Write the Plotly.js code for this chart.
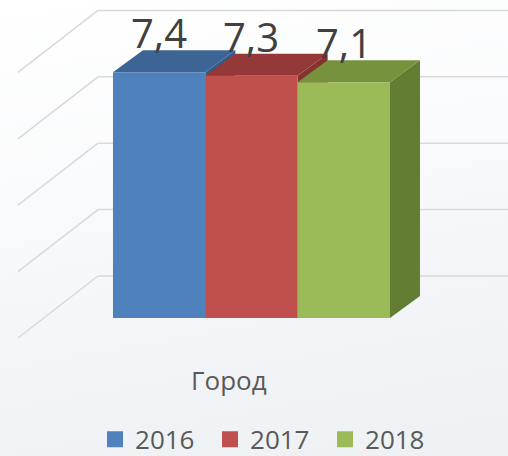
<!DOCTYPE html>
<html>
<head>
<meta charset="utf-8">
<script src="https://cdn.plot.ly/plotly-3.0.1.min.js"></script>
<style>
html,body{margin:0;padding:0;}
body{width:508px;height:456px;background:linear-gradient(170deg,#ffffff 0%,#fafbfc 35%,#f2f4f7 70%,#eef1f4 100%);}
#chart{width:508px;height:456px;}
</style>
</head>
<body>
<div id="chart"></div>
<script>
// ---- data ----
const categories = ['Город'];
const seriesNames = ['2016', '2017', '2018'];
const values = [7.4, 7.3, 7.1];
const valueLabels = ['7,4', '7,3', '7,1'];
const gridValues = [0, 2, 4, 6, 8];

// ---- styles ----
const frontColors = ['#4F81BD', '#C0504D', '#9BBB59'];
const topColors   = ['#3C6595', '#943937', '#76923C'];
const sideColors  = ['#365A86', '#843331', '#637D32'];
const W = 508, H = 456;
const xRange = [-0.5447, 0.5556];
const yRange = [-4.157, 9.578];
const groupWidth = 0.6;
const pxX = W / (xRange[1] - xRange[0]);
const pxY = H / (yRange[1] - yRange[0]);
const barDepthPx = [30, 22];       // right, up
const wallBackPx = [54, 42];       // back wall offset from bar fronts
const wallSidePx = [80, 62];       // side wall length (left, down)
const wallGapPx = 15;              // back wall corner left of first bar
const fontFam = '"Open Sans", "Noto Sans", sans-serif';

const n = values.length;
const bw = groupWidth / n;
const x0s = values.map((v, i) => -groupWidth / 2 + i * bw);
const centers = x0s.map(x => x + bw / 2);

const traces = values.map((v, i) => ({
  type: 'bar',
  x: [categories[0]],
  y: [v],
  name: seriesNames[i],
  marker: {color: frontColors[i], line: {width: 0}},
  offset: x0s[i],
  width: bw,
  showlegend: false,
  hoverinfo: 'none'
}));
// legend proxies
seriesNames.forEach((s, i) => traces.push({
  type: 'scatter', mode: 'markers', x: [null], y: [null], name: s,
  marker: {symbol: 'square', size: 18, color: frontColors[i]},
  hoverinfo: 'none'
}));

const shapes = [];
const ddx = barDepthPx[0] / pxX, ddy = barDepthPx[1] / pxY;
// walls / gridlines
const cornerX = x0s[0] - wallGapPx / pxX;
gridValues.forEach(g => {
  const yb = g + wallBackPx[1] / pxY;
  shapes.push({type: 'line', layer: 'below', xref: 'x', yref: 'y',
    x0: cornerX, x1: xRange[1] + 0.1, y0: yb, y1: yb,
    line: {color: '#d9d9d9', width: 1.5}});
  shapes.push({type: 'line', layer: 'below', xref: 'x', yref: 'y',
    x0: cornerX, y0: yb, x1: cornerX - wallSidePx[0] / pxX, y1: yb - wallSidePx[1] / pxY,
    line: {color: '#d9d9d9', width: 1.5}});
});
// bar side & top faces
values.forEach((v, i) => {
  const a = x0s[i], b = x0s[i] + bw;
  shapes.push({type: 'path', layer: 'below', xref: 'x', yref: 'y',
    path: `M${b},0 L${b + ddx},${ddy} L${b + ddx},${v + ddy} L${b},${v} Z`,
    fillcolor: sideColors[i], line: {width: 0}});
  shapes.push({type: 'path', layer: 'below', xref: 'x', yref: 'y',
    path: `M${a},${v} L${b},${v} L${b + ddx},${v + ddy} L${a + ddx},${v + ddy} Z`,
    fillcolor: topColors[i], line: {width: 0}});
});

const annotations = values.map((v, i) => ({
  x: centers[i], y: v, xref: 'x', yref: 'y',
  text: valueLabels[i], showarrow: false,
  yanchor: 'bottom', xanchor: 'center', yshift: barDepthPx[1] - 12,
  font: {family: fontFam, size: 40, color: '#404040'}
}));
annotations.push({
  x: 0, y: 0, xref: 'x', yref: 'y', text: categories[0], showarrow: false,
  xanchor: 'center', yanchor: 'middle', xshift: -22, yshift: -62,
  font: {family: fontFam, size: 26, color: '#595959'}
});

const layout = {
  width: W, height: H,
  margin: {l: 0, r: 0, t: 0, b: 0, autoexpand: false},
  paper_bgcolor: 'rgba(0,0,0,0)',
  plot_bgcolor: 'rgba(0,0,0,0)',
  barmode: 'group',
  xaxis: {type: 'category', range: xRange, showgrid: false, zeroline: false,
    showticklabels: false, showline: false, fixedrange: true, automargin: false},
  yaxis: {range: yRange, showgrid: false, zeroline: false, showticklabels: false,
    showline: false, fixedrange: true, automargin: false},
  showlegend: true,
  legend: {orientation: 'h', x: 0.5266, xanchor: 'center', y: -0.015, yanchor: 'bottom',
    font: {family: fontFam, size: 26, color: '#595959'},
    bgcolor: 'rgba(0,0,0,0)', itemwidth: 30, entrywidth: 70, entrywidthmode: 'pixels',
    itemclick: false, itemdoubleclick: false},
  shapes: shapes,
  annotations: annotations,
  font: {family: fontFam}
};

Plotly.newPlot('chart', traces, layout, {staticPlot: true, displayModeBar: false});
</script>
</body>
</html>
